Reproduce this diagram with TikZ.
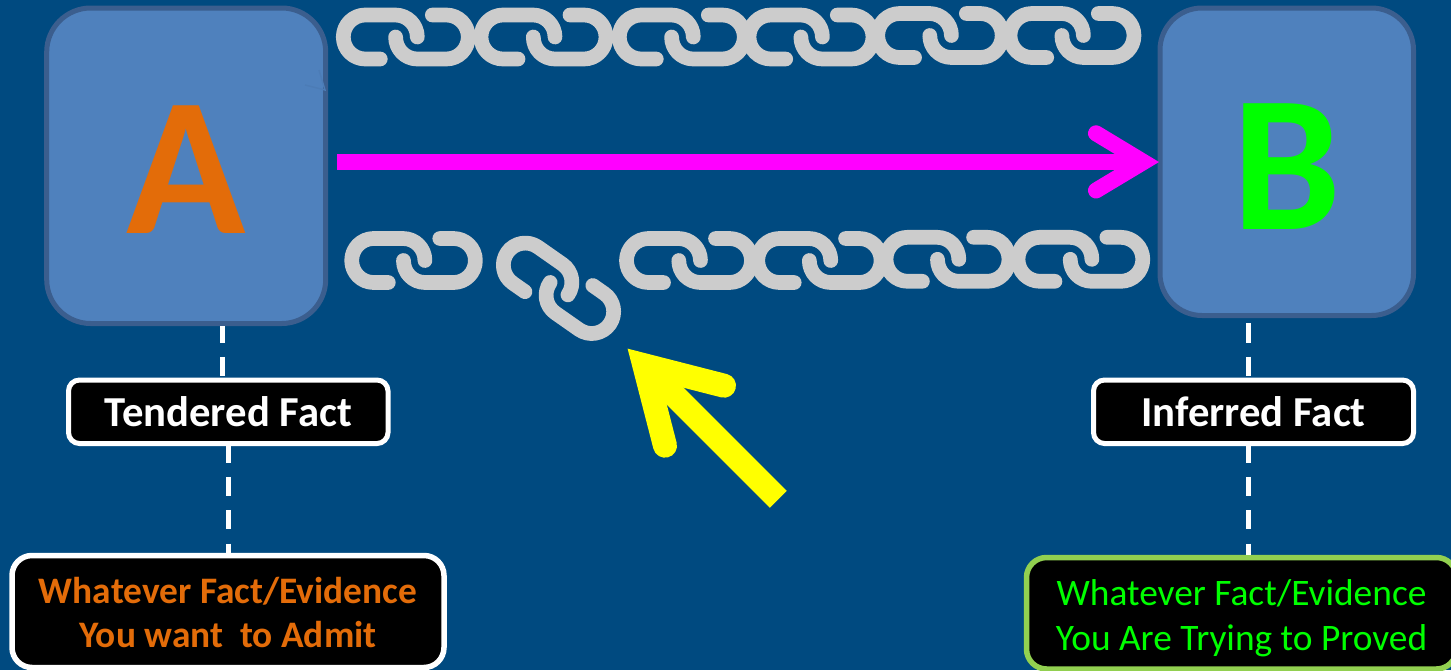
\documentclass[tikz,border=0pt]{standalone}
\usepackage{fontspec}
\setmainfont{Carlito}
\definecolor{bgblue}{HTML}{004A80}
\definecolor{boxfill}{HTML}{4F81BD}
\definecolor{boxedge}{HTML}{3B5E8E}
\definecolor{chaingrey}{HTML}{CCCCCC}
\definecolor{orangetxt}{HTML}{E36C09}
\definecolor{limeedge}{HTML}{92D050}
\definecolor{puregreen}{HTML}{00FF00}
\definecolor{puremagenta}{HTML}{FF00FF}
\definecolor{pureyellow}{HTML}{FFFF00}
\tikzset{
  linkline/.style={draw=chaingrey,line width=14.7pt,line cap=round,line join=round},
  bigbox/.style={draw=boxedge,fill=boxfill,line width=5pt,rounded corners=44pt,inner sep=0pt},
  tagbox/.style={draw=white,fill=black,line width=5pt,rounded corners=11pt,inner sep=0pt,text=white,
     font=\fontsize{42.7}{46}\selectfont\bfseries,text height=28.5pt,text depth=0pt},
  notebox/.style={fill=black,line width=5.5pt,rounded corners=20pt,inner sep=0pt,align=center},
  dashline/.style={draw=white,line width=4.6pt,dash pattern=on 19.2pt off 14.2pt},
  magline/.style={draw=puremagenta,line width=16pt},
  maghead/.style={draw=puremagenta,line width=16pt,line cap=round,miter limit=10},
  yelline/.style={draw=pureyellow,line width=24pt},
  yelhead/.style={draw=pureyellow,line width=24pt,line cap=round,miter limit=10},
  markline/.style={draw=boxfill!85!boxedge,line width=1.4pt}
}
% one pair of interlocked links: left centre x, centre y, centre-line width, rotation about own centre
\newcommand{\chainpair}[4]{%
  \begin{scope}[shift={(#1,#2)},rotate around={#4:(#3/2,0)},xscale=#3/125]
    \path[linkline] (37,22) -- (22,22) .. controls (9.85,22) and (0,12.15) .. (0,0)
      .. controls (0,-12.15) and (9.85,-22) .. (22,-22) -- (52,-22)
      .. controls (64.15,-22) and (74,-12.15) .. (74,0);
    \path[linkline] (52.3,0) .. controls (52.3,12.15) and (61.85,22) .. (74,22) -- (103,22)
      .. controls (115.15,22) and (125,12.15) .. (125,0)
      .. controls (125,-12.15) and (115.15,-22) .. (103,-22) -- (89,-22);
  \end{scope}}
\begin{document}
\begin{tikzpicture}[x=1pt,y=-1pt]
\useasboundingbox (0,0) rectangle (1451,670);
\clip (0,0) rectangle (1451,670);
\fill[bgblue] (0,0) rectangle (1451,670);

% main boxes
\node[bigbox,minimum width=279pt,minimum height=315.5pt,text=orangetxt,
  font=\fontsize{197}{197}\selectfont\bfseries,text height=134.5pt,text depth=0pt] (A) at (186.2,165.75) {A};
\node[bigbox,minimum width=253.5pt,minimum height=307.5pt,rounded corners=42pt,text=puregreen,
  font=\fontsize{194}{194}\selectfont\bfseries,text height=134.5pt,text depth=0pt] (B) at (1286.75,161.75) {B};

% faint mark on the edge of box A
\coordinate (marktip) at (325,90);
\coordinate (marka) at (305,85);
\coordinate (markb) at (319,70);
\draw[markline] (marka) -- (marktip) -- (markb);

% top chain
\chainpair{343.3}{37}{125}{0}
\chainpair{481}{37}{125}{0}
\chainpair{619.3}{37}{125}{0}
\chainpair{749}{37}{124}{0}
\chainpair{877.7}{35.5}{124.5}{0}
\chainpair{1010}{35.5}{124}{0}

% bottom chain
\chainpair{351.7}{260.5}{123.7}{0}
\chainpair{496}{288.3}{125}{-35}
\chainpair{626.5}{260.5}{125}{0}
\chainpair{757.7}{260.5}{123.4}{0}
\chainpair{886}{259.3}{123}{0}
\chainpair{1018}{259.3}{124.8}{0}

% magenta arrow
\coordinate (magstart) at (337,162);
\coordinate (magapex) at (1143.5,162);
\coordinate (magup) at (1096,133.3);
\coordinate (magdown) at (1096,190.5);
\draw[magline] (magstart) -- (magapex);
\draw[maghead] (magup) -- (magapex) -- (magdown);

% yellow arrow
\coordinate (yelstart) at (778.3,499.3);
\coordinate (yelapex) at (644.3,365.3);
\coordinate (yelright) at (724,385.7);
\coordinate (yelleft) at (665,445.7);
\draw[yelline] (yelstart) -- (yelapex);
\draw[yelhead] (yelright) -- (yelapex) -- (yelleft);

% labels
\node[tagbox,minimum width=319.5pt,minimum height=63.5pt] (tendered) at (228.25,411.75) {Tendered Fact};
\node[tagbox,minimum width=320pt,minimum height=63.5pt] (inferred) at (1253.5,411.75) {Inferred Fact};
\node[notebox,draw=white,text=orangetxt,minimum width=432pt,minimum height=112pt,
  font=\fontsize{37.4}{44}\selectfont\bfseries,text height=71pt,text depth=0pt] (want) at (228,611.5)
  {Whatever Fact/Evidence\\You want\ \ to Admit};
\node[notebox,draw=limeedge,text=puregreen,minimum width=430pt,minimum height=111.5pt,
  font=\fontsize{37.4}{45}\selectfont,text height=74pt,text depth=0pt] (prove) at (1241.5,613.25)
  {Whatever Fact/Evidence\\You Are Trying to Proved};

% dashed connectors
\coordinate (leftup) at (222.7,0);
\coordinate (leftdown) at (228.3,0);
\coordinate (rightx) at (1248.3,0);
\coordinate (rightstart) at (1248.3,323.3);
\draw[dashline,dash phase=2.6pt] (leftup |- A.south) -- (leftup |- tendered.north);
\draw[dashline,dash phase=2.6pt] (leftdown |- tendered.south) -- (leftdown |- want.north);
\draw[dashline] (rightstart) -- (rightx |- inferred.north);
\draw[dashline,dash phase=2.6pt] (rightx |- inferred.south) -- (rightx |- prove.north);
\end{tikzpicture}
\end{document}
